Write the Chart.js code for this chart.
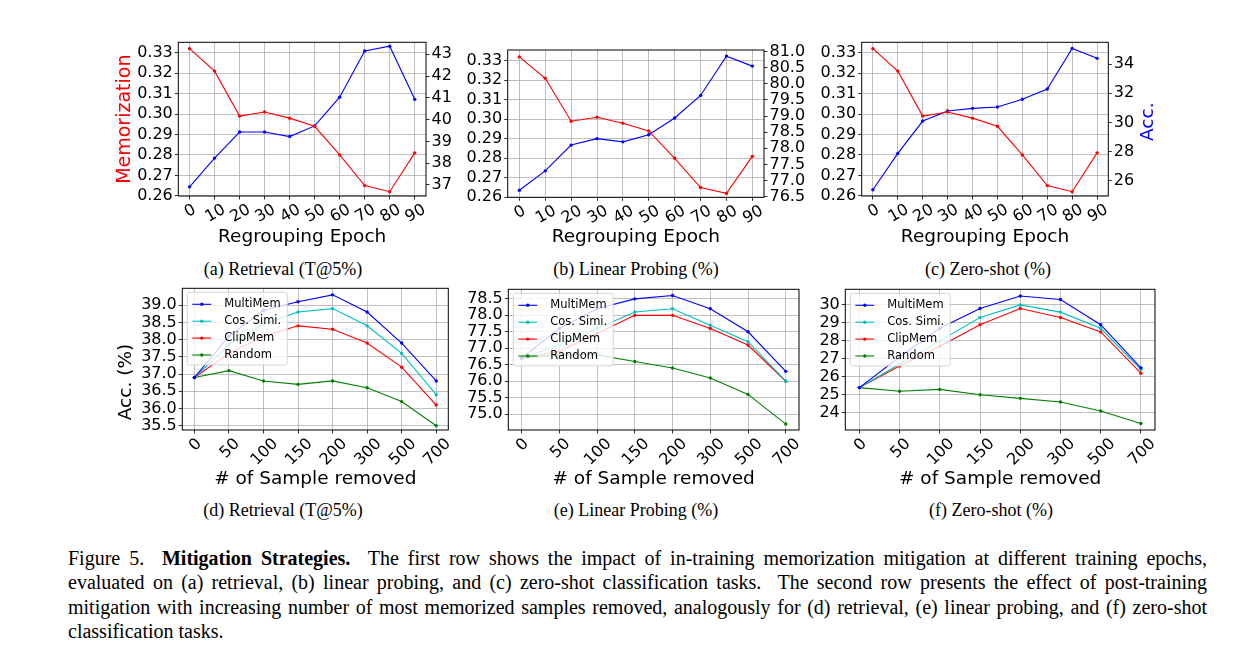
<!DOCTYPE html>
<html>
<head>
<meta charset="utf-8">
<script src="https://cdn.jsdelivr.net/npm/chart.js@4.4.1/dist/chart.umd.min.js"></script>
<style>
  body { margin: 0; background: #fff; width: 1235px; height: 651px; position: relative; overflow: hidden; }
  canvas { position: absolute; }
  .sub { position: absolute; font-family: "Liberation Serif", serif; font-size: 18px; color: #000;
         transform: translate(-50%, -50%); white-space: nowrap; }
  #caption { position: absolute; left: 68px; top: 545.6px; width: 1139px; font-family: "Liberation Serif", serif;
             font-size: 20px; line-height: 24.6px; color: #000; }
  #caption div { text-align: justify; text-align-last: justify; white-space: nowrap; }
  #caption div.last { text-align-last: left; }
</style>
</head>
<body>

<div class="sub" style="left:283px; top:268.5px">(a) Retrieval (T@5%)</div>
<div class="sub" style="left:636px; top:268.5px">(b) Linear Probing (%)</div>
<div class="sub" style="left:988px; top:268.5px">(c) Zero-shot (%)</div>
<div class="sub" style="left:283px; top:510px">(d) Retrieval (T@5%)</div>
<div class="sub" style="left:636px; top:510px">(e) Linear Probing (%)</div>
<div class="sub" style="left:991px; top:510px">(f) Zero-shot (%)</div>

<div id="caption">
  <div>Figure 5.&nbsp; <b>Mitigation Strategies.</b>&nbsp; The first row shows the impact of in-training memorization mitigation at different training epochs,</div>
  <div>evaluated on (a) retrieval, (b) linear probing, and (c) zero-shot classification tasks.&nbsp; The second row presents the effect of post-training</div>
  <div>mitigation with increasing number of most memorized samples removed, analogously for (d) retrieval, (e) linear probing, and (f) zero-shot</div>
  <div class="last">classification tasks.</div>
</div>

<script>
// ---- data ----
const epochs = [0, 10, 20, 30, 40, 50, 60, 70, 80, 90];
const memorization = [0.332, 0.321, 0.299, 0.301, 0.298, 0.294, 0.280, 0.265, 0.262, 0.281];
const accRetrieval = [36.91, 38.23, 39.43, 39.43, 39.22, 39.71, 41.03, 43.15, 43.37, 40.93];
const accLinear = [76.7, 77.3, 78.1, 78.3, 78.2, 78.42, 78.94, 79.64, 80.86, 80.55];
const accZeroShot = [25.38, 27.87, 30.09, 30.78, 30.96, 31.05, 31.58, 32.29, 35.07, 34.39];

const removed = ['0', '50', '100', '150', '200', '300', '500', '700'];
const retMulti = [36.9, 38.1, 38.85, 39.1, 39.3, 38.8, 37.9, 36.8];
const retCos = [36.9, 37.85, 38.45, 38.8, 38.9, 38.4, 37.6, 36.4];
const retClip = [36.9, 37.6, 38.1, 38.4, 38.3, 37.9, 37.2, 36.1];
const retRandom = [36.9, 37.1, 36.8, 36.7, 36.8, 36.6, 36.2, 35.5];
const lpMulti = [76.7, 77.6, 78.2, 78.5, 78.6, 78.2, 77.5, 76.3];
const lpCos = [76.7, 77.1, 77.6, 78.1, 78.2, 77.7, 77.2, 76.0];
const lpClip = [76.7, 76.9, 77.45, 78.0, 78.0, 77.6, 77.1, 76.0];
const lpRandom = [76.7, 76.8, 76.8, 76.6, 76.4, 76.1, 75.6, 74.7];
const zsMulti = [25.4, 27.1, 28.7, 29.8, 30.5, 30.3, 28.9, 26.5];
const zsCos = [25.4, 26.7, 28.0, 29.3, 30.0, 29.6, 28.7, 26.4];
const zsClip = [25.4, 26.6, 27.7, 28.9, 29.8, 29.3, 28.5, 26.2];
const zsRandom = [25.4, 25.2, 25.3, 25.0, 24.8, 24.6, 24.1, 23.4];

const memTicks = [0.26, 0.27, 0.28, 0.29, 0.30, 0.31, 0.32, 0.33];
const retTopTicks = [37, 38, 39, 40, 41, 42, 43];
const lpTopTicks = [76.5, 77.0, 77.5, 78.0, 78.5, 79.0, 79.5, 80.0, 80.5, 81.0];
const zsTopTicks = [26, 28, 30, 32, 34];
const retTicks = [35.5, 36.0, 36.5, 37.0, 37.5, 38.0, 38.5, 39.0];
const lpTicks = [75.0, 75.5, 76.0, 76.5, 77.0, 77.5, 78.0, 78.5];
const zsTicks = [24, 25, 26, 27, 28, 29, 30];

const methods = ['MultiMem', 'Cos. Simi.', 'ClipMem', 'Random'];

// ---- styling ----
const FONT = '"DejaVu Sans", sans-serif';
const GRID = '#b0b0b0';
const RED = '#ff0000', BLUE = '#0000ff', CYAN = '#00bfbf', GREEN = '#008000';
const methodColors = [BLUE, CYAN, RED, GREEN];

function fixSize(size, horizontal) {
  return function (s) {
    if (horizontal) { s.height = size; s.paddingLeft = 0; s.paddingRight = 0; }
    else { s.width = size; s.paddingTop = 0; s.paddingBottom = 0; }
  };
}

function yAxis(pos, min, max, ticks, decimals, width, onChart) {
  return {
    type: 'linear', position: pos, min: min, max: max,
    afterBuildTicks: s => { s.ticks = ticks.map(v => ({ value: v })); },
    afterFit: fixSize(width, false),
    border: { display: false },
    grid: { display: true, drawOnChartArea: onChart, color: GRID, lineWidth: 0.8,
            tickLength: 3.5, tickColor: '#000', tickWidth: 0.8 },
    ticks: { autoSkip: false, padding: 2, color: '#000', font: { family: FONT, size: 16 },
             callback: v => Number(v).toFixed(decimals) }
  };
}

function xAxis(min, max, ticks, height) {
  return {
    type: 'linear', min: min, max: max,
    afterBuildTicks: s => { s.ticks = ticks.map(v => ({ value: v })); },
    afterFit: fixSize(height, true),
    border: { display: false },
    grid: { color: GRID, lineWidth: 0.8, tickLength: 3.5, tickColor: '#000', tickWidth: 0.8 },
    ticks: { display: false }
  };
}

function line(label, xs, ys, color, axis) {
  return {
    label: label,
    data: ys.map((v, i) => ({ x: xs[i], y: v })),
    borderColor: color, backgroundColor: color,
    borderWidth: 1.1, pointRadius: 1.7, pointBorderWidth: 0, pointBackgroundColor: color,
    tension: 0, yAxisID: axis || 'y'
  };
}

function drawLegend(chart, ctx, a) {
  const fs = 11.5, rowH = 16.9, textX = 37;
  ctx.font = fs + 'px ' + FONT;
  const sets = chart.data.datasets;
  const x0 = a.left + 5, y0 = a.top + 4;
  const w = textX + Math.max(...sets.map(d => ctx.measureText(d.label).width)) + 6;
  const h = 12 + rowH * (sets.length - 1) + 10;
  ctx.beginPath();
  ctx.roundRect(x0, y0, w, h, 2.5);
  ctx.fillStyle = 'rgba(255,255,255,0.8)';
  ctx.fill();
  ctx.strokeStyle = '#cccccc';
  ctx.lineWidth = 0.8;
  ctx.stroke();
  sets.forEach((d, i) => {
    const y = y0 + 12 + i * rowH;
    ctx.strokeStyle = d.borderColor;
    ctx.lineWidth = 1.1;
    ctx.beginPath(); ctx.moveTo(x0 + 5, y); ctx.lineTo(x0 + 24, y); ctx.stroke();
    ctx.fillStyle = d.borderColor;
    ctx.beginPath(); ctx.arc(x0 + 14.5, y, 1.7, 0, Math.PI * 2); ctx.fill();
    ctx.fillStyle = '#000';
    ctx.textAlign = 'left'; ctx.textBaseline = 'middle';
    ctx.fillText(d.label, x0 + textX, y);
  });
}

function decor(p) {
  return {
    id: 'decor',
    afterDatasetsDraw(chart) {
      const ctx = chart.ctx, a = chart.chartArea;
      ctx.save();
      ctx.strokeStyle = '#000';
      ctx.lineWidth = 1;
      ctx.strokeRect(a.left, a.top, a.right - a.left, a.bottom - a.top);
      if (p.legend) drawLegend(chart, ctx, a);

      // rotated x tick labels, centred under each tick like matplotlib
      const xs = chart.scales.x;
      const th = p.rot * Math.PI / 180;
      ctx.font = '16px ' + FONT;
      ctx.fillStyle = '#000';
      ctx.textAlign = 'center';
      ctx.textBaseline = 'alphabetic';
      const capH = 16 * 0.729;
      p.xVals.forEach((v, i) => {
        const txt = p.xLabels[i];
        const w = ctx.measureText(txt).width;
        const px = xs.getPixelForValue(v);
        const cy = a.bottom + 6 + (w * Math.sin(th) + capH * Math.cos(th)) / 2;
        ctx.save();
        ctx.translate(px, cy);
        ctx.rotate(-th);
        ctx.fillText(txt, 0, capH / 2);
        ctx.restore();
      });

      // axis titles
      ctx.font = '18.5px ' + FONT;
      ctx.textBaseline = 'middle';
      ctx.fillStyle = '#000';
      ctx.fillText(p.xTitle, (a.left + a.right) / 2, p.xTitleY - p.box.top);
      (p.yTitles || []).forEach(t => {
        ctx.save();
        ctx.font = t.size + 'px ' + FONT;
        ctx.fillStyle = t.color;
        ctx.translate(t.x - p.box.left, t.y - p.box.top);
        ctx.rotate(-Math.PI / 2);
        ctx.fillText(t.text, 0, 0);
        ctx.restore();
      });
      ctx.restore();
    }
  };
}

function panel(p) {
  const c = document.createElement('canvas');
  c.width = p.box.width; c.height = p.box.height;
  c.style.left = p.box.left + 'px'; c.style.top = p.box.top + 'px';
  document.body.appendChild(c);
  const boxRight = p.box.left + p.box.width, boxBottom = p.box.top + p.box.height;
  const scales = {
    x: xAxis(p.xMin, p.xMax, p.xVals, boxBottom - p.area.b),
    y: yAxis('left', p.y.min, p.y.max, p.y.ticks, p.y.dec, p.area.l - p.box.left, true)
  };
  if (p.y1) scales.y1 = yAxis('right', p.y1.min, p.y1.max, p.y1.ticks, p.y1.dec, boxRight - p.area.r, false);
  new Chart(c, {
    type: 'line',
    data: { datasets: p.datasets },
    options: {
      responsive: false, animation: false,
      layout: { padding: { top: p.area.t - p.box.top, left: 0, bottom: 0, right: p.y1 ? 0 : boxRight - p.area.r } },
      plugins: { legend: { display: false }, tooltip: { enabled: false } },
      scales: scales
    },
    plugins: [decor(p)]
  });
}

const topRow = [
  { box: { left: 95, top: 28, width: 375, height: 225 }, area: { l: 178.3, t: 42.3, r: 426, b: 196 },
    y1: { min: 36.49, max: 43.55, ticks: retTopTicks, dec: 0 }, acc: accRetrieval,
    yTitles: [{ text: 'Memorization', color: RED, x: 125, y: 119.2, size: 19 }] },
  { box: { left: 452, top: 28, width: 358, height: 225 }, area: { l: 507.7, t: 50, r: 764, b: 197.3 },
    y1: { min: 76.48, max: 81.05, ticks: lpTopTicks, dec: 1 }, acc: accLinear, yTitles: [],
    yRange: [0.26, 0.3355] },
  { box: { left: 810, top: 28, width: 415, height: 225 }, area: { l: 861.7, t: 42.3, r: 1108.3, b: 196 },
    y1: { min: 24.95, max: 35.49, ticks: zsTopTicks, dec: 0 }, acc: accZeroShot,
    yTitles: [{ text: 'Acc.', color: BLUE, x: 1148.3, y: 121.7, size: 18.5 }] }
];

topRow.forEach(t => {
  const yr = t.yRange || [0.2599, 0.3351];
  panel({
    box: t.box, area: t.area,
    xMin: -4.5, xMax: 94.5, xVals: epochs, xLabels: epochs.map(String), rot: 30,
    xTitle: 'Regrouping Epoch', xTitleY: 237,
    y: { min: yr[0], max: yr[1], ticks: memTicks, dec: 2 },
    y1: t.y1,
    yTitles: t.yTitles,
    datasets: [line('Memorization', epochs, memorization, RED, 'y'), line('Acc.', epochs, t.acc, BLUE, 'y1')]
  });
});

const idx = removed.map((_, i) => i);
const bottomRow = [
  { box: { left: 95, top: 272, width: 380, height: 222 }, area: { l: 182.3, t: 288.3, r: 448.3, b: 430 },
    y: { min: 35.375, max: 39.49, ticks: retTicks, dec: 1 }, series: [retMulti, retCos, retClip, retRandom],
    yTitles: [{ text: 'Acc. (%)', color: '#000', x: 126, y: 382, size: 18.5 }] },
  { box: { left: 455, top: 272, width: 360, height: 222 }, area: { l: 508.3, t: 289.3, r: 799, b: 430 },
    y: { min: 74.52, max: 78.79, ticks: lpTicks, dec: 1 }, series: [lpMulti, lpCos, lpClip, lpRandom], yTitles: [] },
  { box: { left: 815, top: 272, width: 400, height: 222 }, area: { l: 845.3, t: 289.3, r: 1155, b: 430 },
    y: { min: 23.04, max: 30.87, ticks: zsTicks, dec: 0 }, series: [zsMulti, zsCos, zsClip, zsRandom], yTitles: [] }
];

bottomRow.forEach(b => {
  panel({
    box: b.box, area: b.area,
    xMin: -0.35, xMax: 7.35, xVals: idx, xLabels: removed, rot: 45,
    xTitle: '# of Sample removed', xTitleY: 479,
    y: b.y, yTitles: b.yTitles, legend: true,
    datasets: methods.map((m, k) => line(m, idx, b.series[k], methodColors[k]))
  });
});
</script>
</body>
</html>
